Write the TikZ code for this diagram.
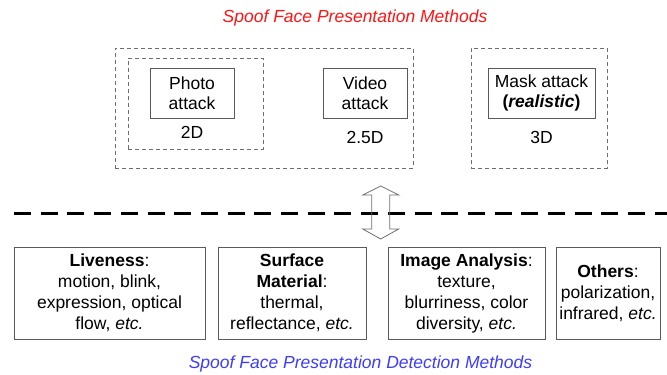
\documentclass[tikz,border=0pt]{standalone}
\usepackage{fontspec}
\setmainfont{Liberation Sans}
\definecolor{titlered}{RGB}{255,20,20}
\definecolor{titleblue}{RGB}{60,60,255}
\definecolor{boxgray}{RGB}{90,90,90}
\definecolor{dashgray}{RGB}{110,110,110}
\begin{document}
\begin{tikzpicture}[x=1pt,y=-1pt,
  txt/.style={font=\fontsize{17.5}{20.5}\selectfont, inner sep=0pt, align=center},
  attackbox/.style={txt, draw=boxgray, line width=0.9pt, rectangle},
  groupbox/.style={draw=dashgray, line width=0.9pt, dash pattern=on 4pt off 3pt, rectangle, inner sep=0pt},
  methodbox/.style={attackbox, font=\fontsize{17.5}{21}\selectfont, minimum height=92pt},
  heading/.style={font=\fontsize{17.5}{21}\selectfont\itshape, inner sep=0pt}]
\useasboundingbox (0,0) rectangle (667,375);

% headings
\node[heading, text=titlered] (toptitle) at (355,18) {Spoof Face Presentation Methods};
\node[heading, text=titleblue] (bottitle) at (360.5,364) {Spoof Face Presentation Detection Methods};

% dashed groupings of the attack types
\node[groupbox, minimum width=298pt, minimum height=120pt] (grp25) at (264,108) {};
\node[groupbox, minimum width=135pt, minimum height=91pt] (grp2) at (195.5,103.5) {};
\node[groupbox, minimum width=136pt, minimum height=120pt] (grp3) at (539,108) {};

% attack types
\node[attackbox, minimum width=84pt, minimum height=50pt] (photo) at (192,93) {Photo\\attack};
\node[attackbox, minimum width=84pt, minimum height=50pt] (video) at (365,93) {Video\\attack};
\node[attackbox, minimum width=107pt, minimum height=50pt] (mask) at (541.5,93) {Mask attack\\\textbf{(\textit{realistic})}};
\node[txt] (d2) at (192,132.7) {2D};
\node[txt] (d25) at (365,137) {2.5D};
\node[txt] (d3) at (541.5,137) {3D};

% separator line
\coordinate (sepL) at (14,213.3);
\coordinate (sepR) at (667,213.3);
\draw[line width=2.7pt, dash pattern=on 17pt off 9.7pt] (sepL) -- (sepR);

% two-way arrow between attacks and detection methods
\draw[draw=dashgray, line width=0.8pt, line join=miter]
  (380.7,186) -- (398.7,195) -- (389.7,195) -- (389.7,229) -- (398.7,229)
  -- (380.7,239) -- (362.7,229) -- (371.7,229) -- (371.7,195) -- (362.7,195) -- cycle;

% detection method categories
\node[methodbox, minimum width=191pt] (live) at (109.5,293)
  {\textbf{Liveness}:\\motion, blink,\\expression, optical\\flow, \textit{etc.}};
\node[methodbox, minimum width=148pt] (surf) at (292,293)
  {\textbf{Surface}\\\textbf{Material}:\\thermal,\\reflectance, \textit{etc.}};
\node[methodbox, minimum width=157pt] (img) at (466.5,293)
  {\textbf{Image Analysis}:\\texture,\\blurriness, color\\diversity, \textit{etc.}};
\node[methodbox, minimum width=104pt] (oth) at (608,293)
  {\textbf{Others}:\\polarization,\\infrared, \textit{etc.}};
\end{tikzpicture}
\end{document}
